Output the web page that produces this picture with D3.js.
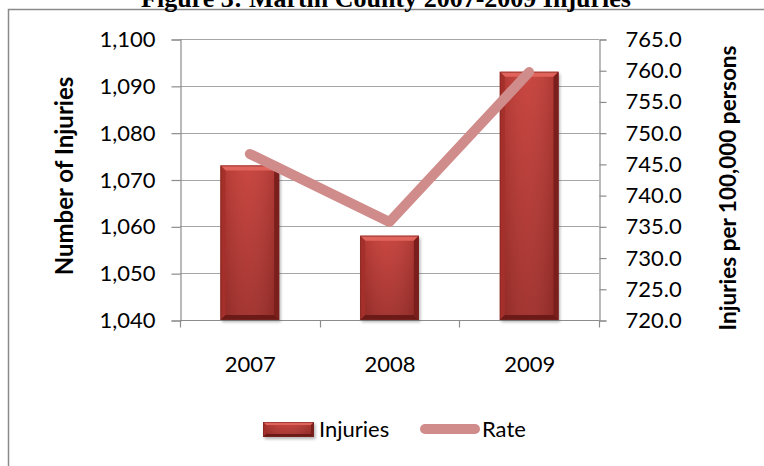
<!DOCTYPE html>
<html>
<head>
<meta charset="utf-8">
<script src="https://cdn.jsdelivr.net/npm/d3@7"></script>
<style>
  html, body { margin: 0; padding: 0; background: #fff; }
  svg { display: block; }
  text { font-family: Lato, "Open Sans", sans-serif; fill: #000; }
</style>
</head>
<body>
<svg id="chart" width="764" height="466"></svg>
<script>
// Martin County injuries, 2007-2009
const years = ["2007", "2008", "2009"];
const injuries = [1073, 1058, 1093];
const rates = [746.6, 735.7, 759.7];
const leftTicks = [1040, 1050, 1060, 1070, 1080, 1090, 1100];
const rightTicks = [720, 725, 730, 735, 740, 745, 750, 755, 760, 765];

const svg = d3.select("#chart");
const W = 764, H = 466;
const plot = { left: 180, right: 599, top: 39, bottom: 320 };

const x = d3.scaleBand().domain(years).range([plot.left, plot.right]).paddingInner(0.58).paddingOuter(0.29);
const band = d3.scaleBand().domain(years).range([plot.left, plot.right]);
const yL = d3.scaleLinear().domain([1040, 1100]).range([plot.bottom, plot.top]);
const yR = d3.scaleLinear().domain([720, 765]).range([plot.bottom, plot.top]);

const defs = svg.append("defs");
const g1 = defs.append("linearGradient").attr("id", "barFill").attr("x1", 0).attr("y1", 0).attr("x2", 0).attr("y2", 1);
g1.append("stop").attr("offset", "0%").attr("stop-color", "#c63d37");
g1.append("stop").attr("offset", "100%").attr("stop-color", "#9e2b27");
const g2 = defs.append("linearGradient").attr("id", "barSheen").attr("x1", 0).attr("y1", 0).attr("x2", 1).attr("y2", 0);
g2.append("stop").attr("offset", "0%").attr("stop-color", "#000").attr("stop-opacity", 0.12);
g2.append("stop").attr("offset", "45%").attr("stop-color", "#fff").attr("stop-opacity", 0.05);
g2.append("stop").attr("offset", "100%").attr("stop-color", "#000").attr("stop-opacity", 0.15);
const blur = defs.append("filter").attr("id", "soft").attr("x", "-20%").attr("y", "-20%").attr("width", "140%").attr("height", "140%");
blur.append("feGaussianBlur").attr("stdDeviation", 1.6);

// outer chart frame (left and top edges)
svg.append("path").attr("d", `M8.5,${H}V9.5H${W}`).attr("fill", "none").attr("stroke", "#8a8a8a").attr("stroke-width", 1.5);

// title, partly above the frame
svg.append("text").attr("x", 386).attr("y", 7).attr("text-anchor", "middle")
  .style("font-family", "'Liberation Serif', 'Times New Roman', serif").style("font-weight", "bold").style("font-size", "26px")
  .text("Figure 3:  Martin County 2007-2009 Injuries");

// horizontal gridlines
svg.append("g").selectAll("line").data(leftTicks).join("line")
  .attr("x1", plot.left).attr("x2", plot.right)
  .attr("y1", d => Math.round(yL(d)) + 0.5).attr("y2", d => Math.round(yL(d)) + 0.5)
  .attr("stroke", "#a6a6a6").attr("stroke-width", 1);

// left axis
const axL = svg.append("g").attr("transform", `translate(${plot.left + 0.5},0.5)`)
  .call(d3.axisLeft(yL).tickValues(leftTicks).tickSize(9).tickPadding(16).tickFormat(d3.format(",")));
// right axis
const axR = svg.append("g").attr("transform", `translate(${plot.right + 0.5},0.5)`)
  .call(d3.axisRight(yR).tickValues(rightTicks).tickSize(7).tickPadding(19).tickFormat(d3.format(".1f")));
// bottom axis, ticks on category boundaries
const axB = svg.append("g").attr("transform", `translate(0.5,${plot.bottom + 0.5})`)
  .call(d3.axisBottom(band).tickSize(0).tickPadding(36));
axB.selectAll(".tick line").remove();
axB.selectAll("line.sep").data([...years.map(d => band(d)), plot.right]).join("line").attr("class", "sep")
  .attr("x1", d => Math.round(d)).attr("x2", d => Math.round(d)).attr("y1", 0).attr("y2", 7);

[axL, axR, axB].forEach(a => {
  a.selectAll(".domain").attr("stroke", "#8c8c8c").attr("stroke-width", 1.2);
  a.selectAll("line").attr("stroke", "#8c8c8c").attr("stroke-width", 1.2);
  a.selectAll("text").style("font-family", "Lato, sans-serif").style("font-size", "22px").attr("fill", "#000");
});
axB.selectAll(".domain").attr("d", `M${plot.left},0H${plot.right}`);

// bevelled bar drawing
function bevelBar(g, bx, by, bw, bh, b) {
  g.append("rect").attr("x", bx + 1.5).attr("y", by + 2).attr("width", bw).attr("height", bh)
    .attr("fill", "#555").attr("opacity", 0.45).attr("filter", "url(#soft)");
  g.append("rect").attr("x", bx).attr("y", by).attr("width", bw).attr("height", bh).attr("fill", "url(#barFill)");
  g.append("rect").attr("x", bx).attr("y", by).attr("width", bw).attr("height", bh).attr("fill", "url(#barSheen)");
  const p = pts => pts.map(q => q.join(",")).join(" ");
  g.append("polygon").attr("points", p([[bx, by], [bx + bw, by], [bx + bw - b, by + b], [bx + b, by + b]])).attr("fill", "#e0645c");
  g.append("polygon").attr("points", p([[bx, by], [bx + b, by + b], [bx + b, by + bh - b], [bx, by + bh]])).attr("fill", "#a5302b");
  g.append("polygon").attr("points", p([[bx + bw, by], [bx + bw, by + bh], [bx + bw - b, by + bh - b], [bx + bw - b, by + b]])).attr("fill", "#7a1f1c");
  g.append("polygon").attr("points", p([[bx, by + bh], [bx + bw, by + bh], [bx + bw - b, by + bh - b], [bx + b, by + bh - b]])).attr("fill", "#6c1a17");
  g.append("rect").attr("x", bx + 0.5).attr("y", by + 0.5).attr("width", bw - 1).attr("height", bh - 1)
    .attr("fill", "none").attr("stroke", "#7a2420").attr("stroke-opacity", 0.6);
}

const bars = svg.append("g");
years.forEach((yr, i) => {
  const bx = x(yr), bw = x.bandwidth();
  const by = yL(injuries[i]);
  bevelBar(bars.append("g"), bx, by, bw, yL(1040) - by, 5);
});

// rate line on the secondary axis
const line = d3.line().x((d, i) => band(years[i]) + band.bandwidth() / 2).y(d => yR(d));
svg.append("path").datum(rates).attr("d", line)
  .attr("fill", "none").attr("stroke", "#d08c8b").attr("stroke-width", 10)
  .attr("stroke-linecap", "round").attr("stroke-linejoin", "round");

// axis titles
svg.append("text").attr("transform", `translate(73,176) rotate(-90)`).attr("text-anchor", "middle")
  .style("font-weight", "bold").style("font-size", "24px").text("Number of Injuries");
svg.append("text").attr("transform", `translate(736,188) rotate(-90)`).attr("text-anchor", "middle")
  .style("font-weight", "bold").style("font-size", "22.5px").text("Injuries per 100,000 persons");

// legend
const lg = svg.append("g");
bevelBar(lg.append("g"), 263, 422, 51, 15, 3);
lg.append("text").attr("x", 319).attr("y", 437).style("font-size", "22px").text("Injuries");
lg.append("line").attr("x1", 425).attr("x2", 475).attr("y1", 429).attr("y2", 429)
  .attr("stroke", "#d08c8b").attr("stroke-width", 10).attr("stroke-linecap", "round");
lg.append("text").attr("x", 482).attr("y", 437).style("font-size", "22px").text("Rate");
</script>
</body>
</html>
